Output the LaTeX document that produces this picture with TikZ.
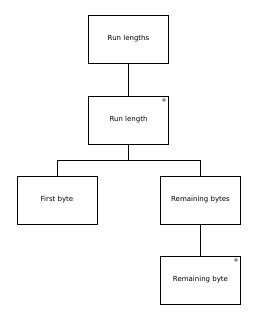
\documentclass[tikz,border=0pt]{standalone}
\usepackage{fontspec}
\setmainfont{DejaVu Sans}
\begin{document}
\begin{tikzpicture}[x=1pt,y=-1pt,
  box/.style={draw, line width=0.8pt, minimum width=80pt, minimum height=48pt,
    inner sep=0pt, font=\fontsize{7}{9}\selectfont},
  many/.style={anchor=north east, inner sep=2pt, text=black!70,
    font=\fontsize{10}{10}\selectfont}]
  % Frame
  \useasboundingbox (0,0) rectangle (256,320);
  % Boxes
  \node[box] (runs) at (128.5,39) {Run lengths};
  \node[box] (run) at (128.5,120) {Run length};
  \node[many] (runstar) at (run.north east) {*};
  \node[box] (first) at (57,200) {First byte};
  \node[box] (rest) at (200.5,200) {Remaining bytes};
  \node[box] (byte) at (200.5,280) {Remaining byte};
  \node[many] (bytestar) at (byte.north east) {*};
  % Links
  \coordinate (fork) at (128.5,160);
  \draw[line width=0.8pt] (runs) -- (run);
  \draw[line width=0.8pt] (run) -- (fork) -| (first);
  \draw[line width=0.8pt] (fork) -| (rest);
  \draw[line width=0.8pt] (rest) -- (byte);
\end{tikzpicture}
\end{document}
